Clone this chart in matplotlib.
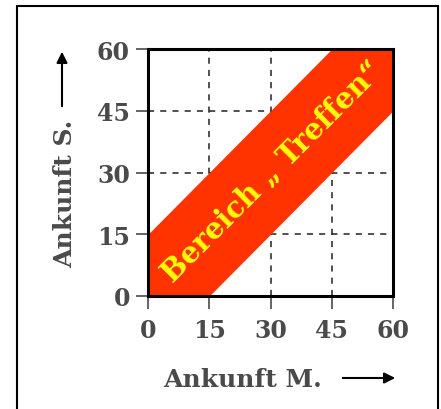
import matplotlib
matplotlib.use("Agg")
import matplotlib.pyplot as plt
from matplotlib.patches import Rectangle, FancyArrowPatch

# data
ticks = [0, 15, 30, 45, 60]
band_x = [0, 60]
band_lo = [-15, 45]
band_hi = [15, 75]
label_x = "Ankunft M."
label_y = "Ankunft S."
band_text = "Bereich \u201e Treffen\u201c"

plt.rcParams["font.family"] = ["DejaVu Serif"]
grey = "#4a4a4a"

fig = plt.figure(figsize=(4.41, 4.10), dpi=100)
fig.patches.append(Rectangle((17 / 441, -0.01), 421 / 441, 1.01 - 7 / 410,
                             transform=fig.transFigure, fill=False,
                             edgecolor="black", linewidth=1.5))

ax = fig.add_axes([148 / 441, 1 - 297 / 410, 245 / 441, 247 / 410])
ax.fill_between(band_x, band_lo, band_hi, color="#ff3300", linewidth=0, zorder=2)
ax.set_xlim(0, 60)
ax.set_ylim(0, 60)
ax.set_xticks(ticks)
ax.set_yticks(ticks)
ax.grid(True, linestyle=(0, (4, 4)), color="#222222", linewidth=1.1, zorder=1)
ax.set_axisbelow(True)
for s in ax.spines.values():
    s.set_linewidth(2.2)
    s.set_zorder(3)
ax.tick_params(direction="out", length=9, width=1.2, color=grey,
               labelsize=17, labelcolor=grey)
ax.tick_params(axis="x", pad=7)
ax.tick_params(axis="y", pad=4)
for lab in ax.get_xticklabels() + ax.get_yticklabels():
    lab.set_fontweight("bold")

ax.text(30.5, 30.5, band_text, rotation=45, ha="center", va="center",
        color="#ffff00", fontsize=21, fontweight="bold", zorder=4,
        rotation_mode="anchor")

fig.text(243 / 441, 1 - 380 / 410, label_x, ha="center", va="center",
         fontsize=18, fontweight="bold", color=grey)
fig.text(65 / 441, 1 - 194 / 410, label_y, ha="center", va="center",
         rotation=90, fontsize=18, fontweight="bold", color=grey)

fig.add_artist(FancyArrowPatch(
    (340 / 441, 1 - 379 / 410), (398 / 441, 1 - 379 / 410),
    transform=fig.transFigure, arrowstyle="-|>", mutation_scale=16,
    color="black", linewidth=1.5))
fig.add_artist(FancyArrowPatch(
    (62 / 441, 1 - 110 / 410), (62 / 441, 1 - 50 / 410),
    transform=fig.transFigure, arrowstyle="-|>", mutation_scale=16,
    color="black", linewidth=1.5))

fig.savefig("out.png", dpi=100)
